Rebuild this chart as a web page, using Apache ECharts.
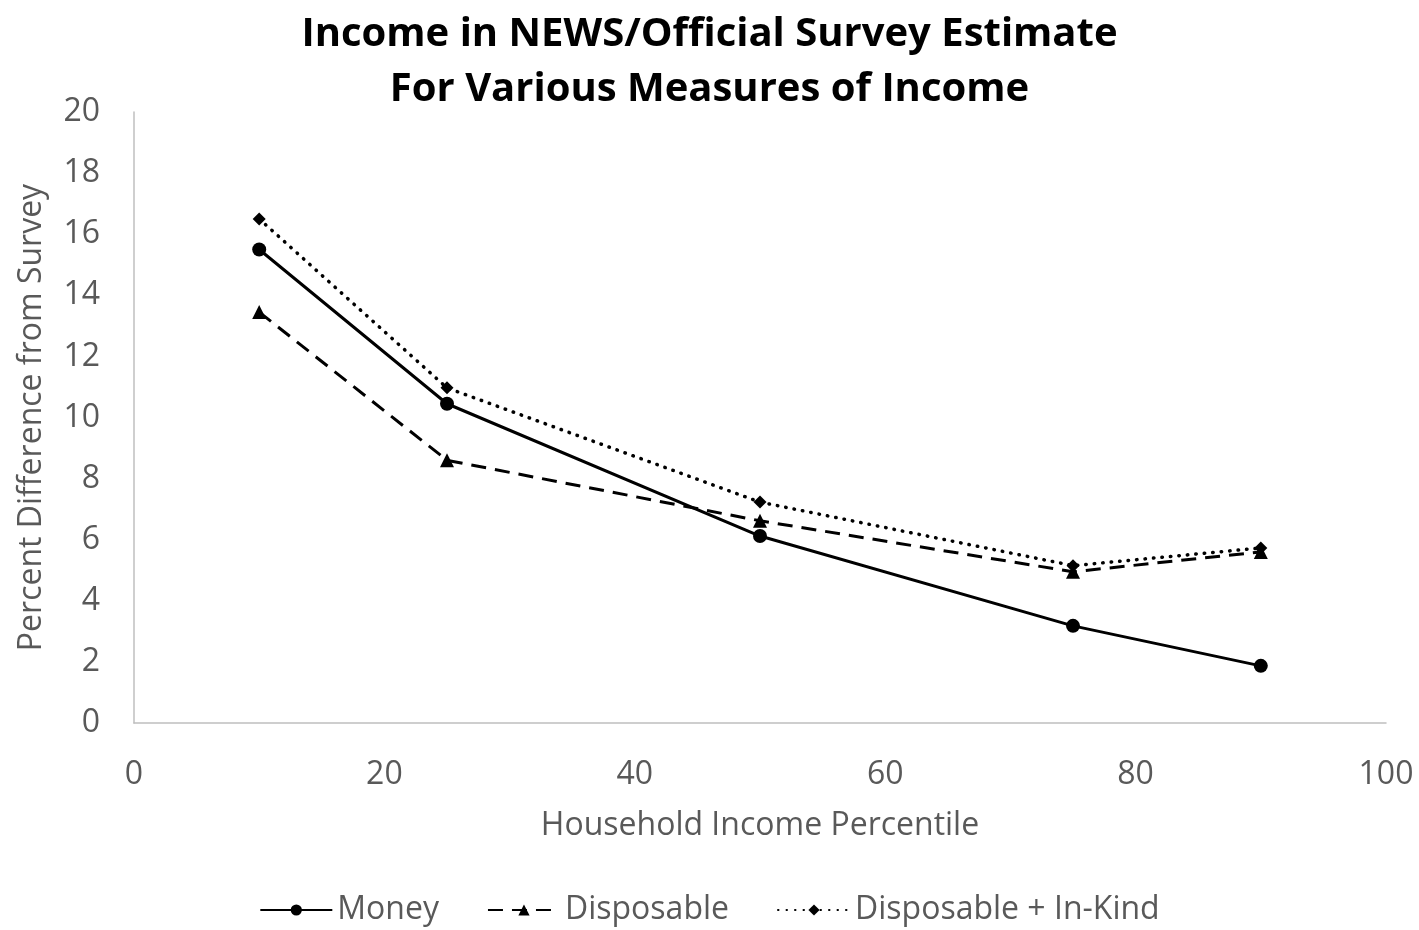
<!DOCTYPE html>
<html>
<head>
<meta charset="utf-8">
<script src="https://cdn.jsdelivr.net/npm/echarts@6/dist/echarts.min.js"></script>
<style>
  html, body { margin: 0; padding: 0; background: #fff; }
  #chart { width: 1419px; height: 930px; }
</style>
</head>
<body>
<div id="chart"></div>
<script>
// Household income percentiles on the x axis
const percentiles = [10, 25, 50, 75, 90];

// Percent difference from survey, per income measure
const money = [15.5, 10.45, 6.12, 3.18, 1.87];
const disposable = [13.45, 8.6, 6.62, 4.95, 5.6];
const disposableInKind = [16.5, 10.97, 7.23, 5.15, 5.73];

const seriesNames = ['Money', 'Disposable', 'Disposable + In-Kind'];
const yTicks = [0, 2, 4, 6, 8, 10, 12, 14, 16, 18, 20];
const xTicks = [0, 20, 40, 60, 80, 100];

const pairs = (vals) => percentiles.map((p, i) => [p, vals[i]]);

const font = '"Open Sans", "Liberation Sans", sans-serif';
const axisGray = '#595959';

const chart = echarts.init(document.getElementById('chart'));
chart.setOption({
  animation: false,
  backgroundColor: '#ffffff',
  title: {
    text: 'Income in NEWS/Official Survey Estimate\nFor Various Measures of Income',
    left: 'center',
    top: 2,
    textStyle: {
      fontFamily: font,
      fontWeight: 'bold',
      fontSize: 40,
      lineHeight: 55,
      color: '#000'
    }
  },
  grid: { left: 134, right: 33, top: 112, bottom: 207 },
  xAxis: {
    type: 'value',
    min: xTicks[0],
    max: xTicks[xTicks.length - 1],
    interval: 20,
    name: 'Household Income Percentile',
    nameLocation: 'middle',
    nameGap: 87,
    nameTextStyle: { fontFamily: font, fontSize: 32, color: axisGray },
    axisLine: { lineStyle: { color: '#bfbfbf', width: 1.5 } },
    axisTick: { show: false },
    splitLine: { show: false },
    axisLabel: { fontFamily: font, fontSize: 32, color: axisGray, margin: 36 }
  },
  yAxis: {
    type: 'value',
    min: yTicks[0],
    max: yTicks[yTicks.length - 1],
    interval: 2,
    name: 'Percent Difference from Survey',
    nameLocation: 'middle',
    nameGap: 86,
    nameTextStyle: { fontFamily: font, fontSize: 32, color: axisGray },
    axisLine: { show: true, lineStyle: { color: '#bfbfbf', width: 1.5 } },
    axisTick: { show: false },
    splitLine: { show: false },
    axisLabel: { fontFamily: font, fontSize: 32, color: axisGray, margin: 34 }
  },
  legend: {
    top: 889,
    left: 'center',
    itemWidth: 72,
    itemHeight: 14,
    itemGap: 48,
    textStyle: { fontFamily: font, fontSize: 32, color: axisGray },
    data: seriesNames
  },
  series: [
    {
      name: seriesNames[0],
      type: 'line',
      data: pairs(money),
      symbol: 'circle',
      symbolSize: 14,
      itemStyle: { color: '#000' },
      lineStyle: { color: '#000', width: 3, type: 'solid' }
    },
    {
      name: seriesNames[1],
      type: 'line',
      data: pairs(disposable),
      symbol: 'triangle',
      symbolSize: 14,
      itemStyle: { color: '#000' },
      lineStyle: { color: '#000', width: 3, type: [15, 9] }
    },
    {
      name: seriesNames[2],
      type: 'line',
      data: pairs(disposableInKind),
      symbol: 'diamond',
      symbolSize: 13,
      itemStyle: { color: '#000' },
      lineStyle: { color: '#000', width: 3.5, type: [0.5, 8], cap: 'round' }
    }
  ]
});
</script>
</body>
</html>
